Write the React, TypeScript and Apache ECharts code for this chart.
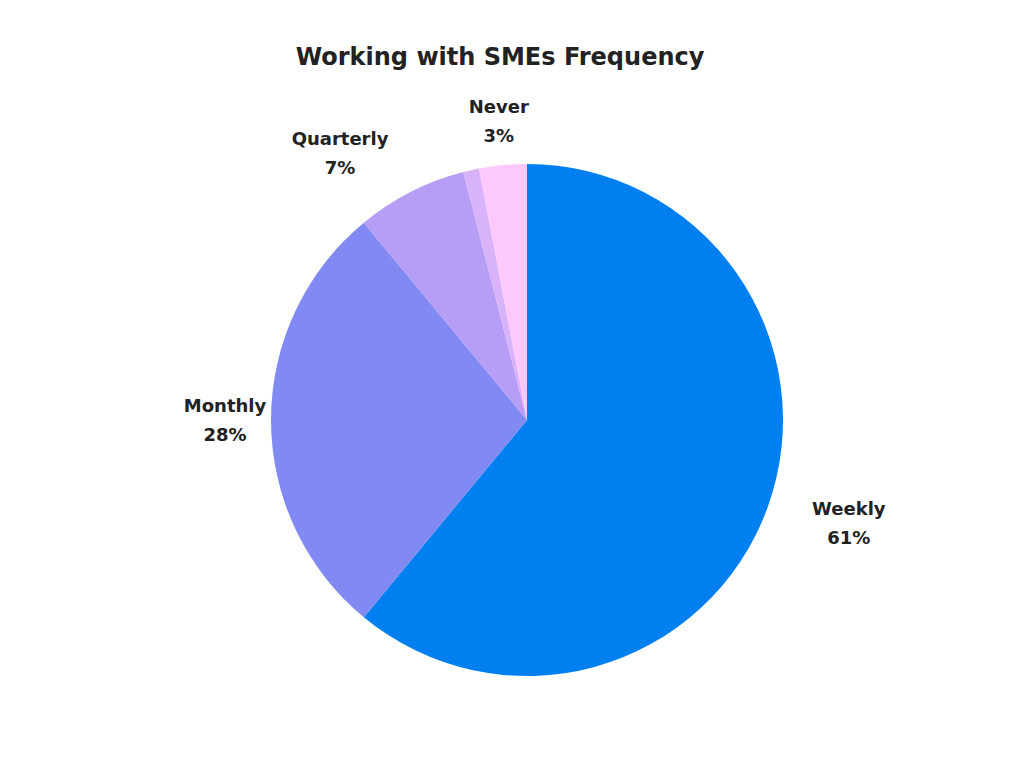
import React, { useEffect, useRef } from 'react';
import * as echarts from 'echarts';

// slice data, clockwise from 12 o'clock
const categories = ['Weekly', 'Monthly', 'Quarterly', 'Other', 'Never'];
const shares = [61, 28, 7, 1, 3];
const sliceColors = ['#0080F0', '#8189F3', '#B69DF6', '#D9B3F9', '#FDC8FC'];
const showLabel = [true, true, true, false, true];

// label placement around the pie (distance from centre, angle nudge in degrees)
const labelDistance = [338, 302, 326, 300, 300];
const labelAngleShift = [-2, 0, -8, 0, 0];

const CENTER: [number, number] = [527, 420];
const RADIUS = 256;
const FONT = 'DejaVu Sans';

const App: React.FC = () => {
  const chartRef = useRef<HTMLDivElement>(null);

  useEffect(() => {
    document.body.style.margin = '0';
    if (!chartRef.current) return;
    const chart = echarts.init(chartRef.current, undefined, { renderer: 'svg' });

    const total = shares.reduce((a, b) => a + b, 0);
    let acc = 0;
    const midAngles = shares.map(v => {
      const mid = ((acc + v / 2) / total) * 360;
      acc += v;
      return mid;
    });

    const option = {
      animation: false,
      backgroundColor: '#ffffff',
      title: {
        text: 'Working with SMEs Frequency',
        left: 495,
        top: 40,
        textAlign: 'center',
        textStyle: {
          fontFamily: FONT,
          fontWeight: 'bold',
          fontSize: 24,
          color: '#222222'
        }
      },
      series: [
        {
          type: 'pie',
          center: CENTER,
          radius: RADIUS,
          startAngle: 90,
          clockwise: true,
          avoidLabelOverlap: false,
          itemStyle: { borderWidth: 0 },
          emphasis: { disabled: true },
          label: {
            show: true,
            position: 'outside',
            formatter: '{b}\n{c}%',
            fontFamily: FONT,
            fontWeight: 'bold',
            fontSize: 18,
            lineHeight: 29,
            color: '#222222',
            align: 'center'
          },
          labelLine: { show: false },
          labelLayout: (params: any) => {
            const i = params.dataIndex;
            const a = ((midAngles[i] + labelAngleShift[i]) * Math.PI) / 180;
            return {
              x: CENTER[0] + Math.sin(a) * labelDistance[i],
              y: CENTER[1] - Math.cos(a) * labelDistance[i],
              align: 'center',
              verticalAlign: 'middle'
            };
          },
          data: categories.map((name, i) => ({
            name,
            value: shares[i],
            itemStyle: { color: sliceColors[i] },
            label: { show: showLabel[i] }
          }))
        }
      ]
    } as any;

    chart.setOption(option);
    return () => chart.dispose();
  }, []);

  return <div ref={chartRef} style={{ width: 1024, height: 768 }} />;
};

export default App;
